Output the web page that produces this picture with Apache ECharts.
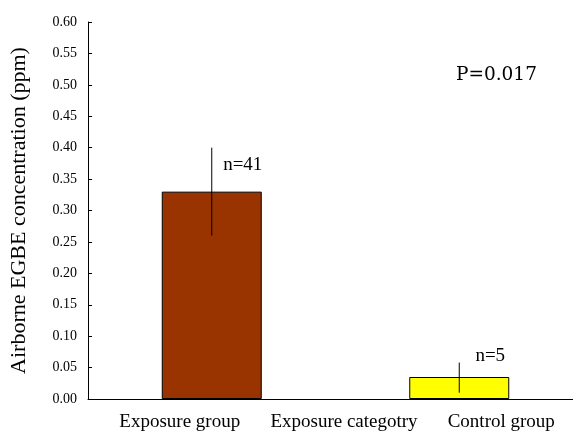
<!DOCTYPE html>
<html>
<head>
<meta charset="utf-8">
<script src="https://cdn.jsdelivr.net/npm/echarts@6/dist/echarts.min.js"></script>
<style>html,body{margin:0;padding:0;background:#fff;}#c{width:573px;height:432px;}</style>
</head>
<body>
<div id="c"></div>
<script>
var categories = ['Exposure group', 'Control group'];
var means = [0.33, 0.035];
var errLow = [0.26, 0.010];
var errHigh = [0.40, 0.058];
var nLabels = ['n=41', 'n=5'];
var nLabelY = [0.372, 0.069];
var barColors = ['#993300', '#FFFF00'];
var yTicks = { min: 0, max: 0.6, interval: 0.05 };
var pText = 'P=0.017';

var FONT = '"Liberation Serif", "DejaVu Serif", serif';
var chart = echarts.init(document.getElementById('c'));
chart.setOption({
  animation: false,
  backgroundColor: '#fff',
  grid: { left: 88, top: 22, width: 495, height: 377, outerBoundsMode: 'none', containLabel: false },
  xAxis: {
    type: 'category',
    data: categories,
    name: 'Exposure categotry',
    nameLocation: 'middle',
    nameGap: 14,
    nameMoveOverlap: false,
    nameTextStyle: { fontFamily: FONT, fontSize: 19, color: '#000', verticalAlign: 'top', padding: [0, 0, 0, 17] },
    axisLine: { lineStyle: { color: '#000', width: 1 } },
    axisTick: { inside: true, length: 5, lineStyle: { color: '#000' } },
    axisLabel: {
      margin: 14,
      formatter: function (v, i) { return i === 0 ? '{a|' + v + '}' : '{b|' + v + '}'; },
      rich: {
        a: { fontFamily: FONT, fontSize: 19, color: '#000', padding: [0, 64, 0, 0] },
        b: { fontFamily: FONT, fontSize: 19, color: '#000', padding: [0, 0, 0, 84] }
      }
    },
    splitLine: { show: false }
  },
  yAxis: {
    type: 'value',
    min: yTicks.min, max: yTicks.max, interval: yTicks.interval,
    name: 'Airborne EGBE concentration (ppm)',
    nameLocation: 'middle',
    nameGap: 58,
    nameMoveOverlap: false,
    nameTextStyle: { fontFamily: FONT, fontSize: 22, color: '#000' },
    axisLine: { show: true, lineStyle: { color: '#000', width: 1 } },
    axisTick: { show: true, inside: true, length: 4, lineStyle: { color: '#000' } },
    axisLabel: {
      margin: 11,
      fontFamily: FONT, fontSize: 14, color: '#000',
      formatter: function (v) { return v.toFixed(2); }
    },
    splitLine: { show: false }
  },
  series: [
    {
      type: 'bar',
      barWidth: 100,
      data: means.map(function (v, i) {
        return { value: v, itemStyle: { color: barColors[i], borderColor: '#000', borderWidth: 1 } };
      }),
      z: 2
    },
    {
      type: 'custom',
      data: categories.map(function (c, i) { return [i, errLow[i], errHigh[i]]; }),
      renderItem: function (params, api) {
        var lo = api.coord([api.value(0), api.value(1)]);
        var hi = api.coord([api.value(0), api.value(2)]);
        return {
          type: 'line',
          shape: { x1: lo[0], y1: lo[1], x2: hi[0], y2: hi[1] },
          style: { stroke: '#000', lineWidth: 1 }
        };
      },
      z: 3
    },
    {
      type: 'custom',
      data: categories.map(function (c, i) { return [i, nLabelY[i]]; }),
      renderItem: function (params, api) {
        var p = api.coord([api.value(0), api.value(1)]);
        return {
          type: 'text',
          style: {
            text: nLabels[params.dataIndex], x: p[0] + 31, y: p[1],
            align: 'center', verticalAlign: 'middle',
            font: '19px ' + FONT, fill: '#000'
          }
        };
      },
      z: 4
    }
  ],
  graphic: [
    {
      type: 'text', left: 456, top: 66,
      style: { text: pText, font: '18.5px "DejaVu Serif", serif', fill: '#000' }
    }
  ]
});
</script>
</body>
</html>
